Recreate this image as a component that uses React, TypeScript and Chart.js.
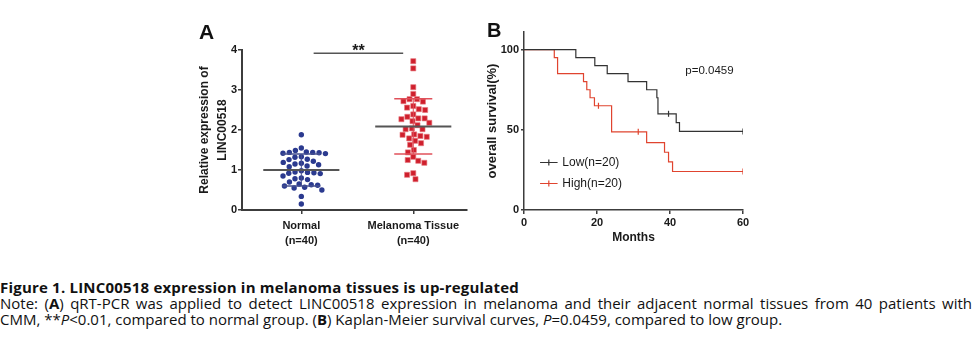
import React, { useEffect, useRef } from "react";
import { Chart, registerables } from "chart.js";
Chart.register(...registerables);

// ---------- Panel A data ----------
const groupLabels = [["Normal", "(n=40)"], ["Melanoma Tissue", "(n=40)"]];
const normalValues = [
  1.88, 1.55, 1.49, 1.45, 1.44, 1.44, 1.43, 1.42, 1.41, 1.33,
  1.32, 1.27, 1.26, 1.22, 1.19, 1.17, 1.15, 1.13, 1.10, 1.08,
  0.98, 0.95, 0.94, 0.93, 0.92, 0.91, 0.85, 0.80, 0.78, 0.76,
  0.70, 0.65, 0.63, 0.62, 0.60, 0.57, 0.55, 0.50, 0.34, 0.15,
];
const melanomaValues = [
  3.72, 3.54, 3.07, 2.90, 2.77, 2.77, 2.72, 2.71, 2.60, 2.56,
  2.52, 2.50, 2.39, 2.33, 2.29, 2.29, 2.27, 2.22, 2.18, 2.12,
  2.04, 2.02, 2.02, 1.89, 1.88, 1.85, 1.83, 1.79, 1.73, 1.67,
  1.63, 1.50, 1.44, 1.33, 1.25, 1.23, 1.18, 0.92, 0.88, 0.77,
];
const groupMeans = [1.0, 2.09];
const groupSDs = [0.4, 0.69];
const yTicksA = [0, 1, 2, 3, 4];
const sigLevel = 3.92;
const sigFrom = 0.11;
const sigTo = 0.91;
const sigLabel = "**";
const yTitleA = ["Relative expression of", "LINC00518"];

// ---------- Panel B data ----------
const lowTimes = [0, 14.2, 19.4, 22.8, 28.5, 33.6, 36.4, 36.7, 41.7, 42.6, 60];
const lowSurvival = [100, 95, 90, 85, 80, 75, 70, 60, 54.5, 49, 49];
const lowCensorTimes = [39.6, 60];
const lowCensorSurvival = [60, 49];
const highTimes = [0, 8.3, 9.2, 16.3, 17.2, 18.1, 19.3, 24, 33.6, 38.5, 39.6, 40.7, 60];
const highSurvival = [100, 95, 85, 80, 75, 70, 65, 48.75, 42, 36, 30, 24, 24];
const highCensorTimes = [20.4, 31.3, 60];
const highCensorSurvival = [65, 48.75, 24];
const xTicksB = [0, 20, 40, 60];
const yTicksB = [0, 50, 100];
const seriesNames = ["Low(n=20)", "High(n=20)"];
const pValueText = "p=0.0459";

const FONT = "'Liberation Sans', Arial, Helvetica, sans-serif";
const AXIS = "#3c3c3c";
const TEXT = "#1a1a1a";
const BLUE = "#2b3a8f";
const RED = "#cf1f2d";
const LOWC = "#333333";
const HIGHC = "#e0442f";

function swarmOffsets(values: number[], pxPerY: number, pxPerX: number, d: number): number[] {
  const order = values.map((_, i) => i).sort((a, b) => values[b] - values[a]);
  const placed: { x: number; y: number }[] = [];
  const out = new Array(values.length).fill(0);
  for (const i of order) {
    const y = values[i] * pxPerY;
    const cands = [0];
    for (const p of placed) {
      const dy = Math.abs(p.y - y);
      if (dy < d) {
        const dx = Math.sqrt(d * d - dy * dy);
        cands.push(p.x + dx, p.x - dx);
      }
    }
    cands.sort((a, b) => Math.abs(a) - Math.abs(b) || a - b);
    let chosen = 0;
    for (const c of cands) {
      if (placed.every((p) => (p.x - c) ** 2 + (p.y - y) ** 2 >= d * d - 0.01)) {
        chosen = c;
        break;
      }
    }
    placed.push({ x: chosen, y });
    out[i] = chosen / pxPerX;
  }
  return out;
}

function lineSet(points: { x: number; y: number }[], color: string, width: number) {
  return {
    data: points,
    showLine: true,
    borderColor: color,
    borderWidth: width,
    pointRadius: 0,
    pointHoverRadius: 0,
    fill: false,
  };
}

function buildConfigA(): any {
  const offN = swarmOffsets(normalValues, 40, 112, 6.4);
  const offM = swarmOffsets(melanomaValues, 40, 112, 6.4);
  const sdColors = ["#46508f", "#e0505a"];
  const statSets: any[] = [];
  groupMeans.forEach((m, g) => {
    const sd = groupSDs[g];
    statSets.push(lineSet([{ x: g - 0.34, y: m }, { x: g + 0.34, y: m }], "#555555", 2));
    statSets.push(lineSet([{ x: g - 0.17, y: m + sd }, { x: g + 0.17, y: m + sd }], sdColors[g], 1.5));
    statSets.push(lineSet([{ x: g - 0.17, y: m - sd }, { x: g + 0.17, y: m - sd }], sdColors[g], 1.5));
    statSets.push(lineSet([{ x: g, y: m - sd }, { x: g, y: m + sd }], sdColors[g], 1));
  });
  statSets.push(lineSet([{ x: sigFrom, y: sigLevel }, { x: sigTo, y: sigLevel }], "#555555", 1.5));

  const sigPlugin = {
    id: "sigText",
    afterDatasetsDraw(chart: any) {
      const { ctx, scales } = chart;
      const x = scales.x.getPixelForValue((sigFrom + sigTo) / 2);
      const y = scales.y.getPixelForValue(sigLevel);
      ctx.save();
      ctx.font = `bold 16px ${FONT}`;
      ctx.fillStyle = TEXT;
      ctx.textAlign = "center";
      ctx.textBaseline = "alphabetic";
      ctx.fillText(sigLabel, x, y + 3);
      ctx.restore();
    },
  };

  return {
    type: "scatter",
    data: {
      datasets: [
        ...statSets,
        {
          data: normalValues.map((v, i) => ({ x: 0 + offN[i], y: v })),
          pointStyle: "circle",
          pointRadius: 2.7,
          pointHoverRadius: 2.7,
          backgroundColor: BLUE,
          borderColor: BLUE,
          borderWidth: 0,
        },
        {
          data: melanomaValues.map((v, i) => ({ x: 1 + offM[i], y: v })),
          pointStyle: "rect",
          pointRadius: 3.6,
          pointHoverRadius: 3.6,
          backgroundColor: RED,
          borderColor: "#e77a80",
          borderWidth: 0.6,
        },
      ],
    },
    options: {
      responsive: false,
      animation: false,
      devicePixelRatio: 1,
      layout: { padding: { left: 0, top: 40, right: 13, bottom: 0 } },
      plugins: { legend: { display: false }, tooltip: { enabled: false } },
      scales: {
        x: {
          type: "linear",
          min: -0.53,
          max: 1.48,
          afterBuildTicks: (s: any) => {
            s.ticks = groupLabels.map((_, i) => ({ value: i }));
          },
          ticks: {
            callback: (_v: any, i: number) => groupLabels[i],
            font: { family: FONT, size: 11, weight: "bold", lineHeight: 1.4 },
            color: TEXT,
            padding: 4,
            maxRotation: 0,
            autoSkip: false,
          },
          grid: { drawOnChartArea: false, drawTicks: true, tickLength: 4, color: AXIS, lineWidth: 1.5 },
          border: { display: true, color: AXIS, width: 2 },
          afterFit: (s: any) => {
            s.height = 50;
          },
        },
        y: {
          type: "linear",
          min: 0,
          max: 4,
          afterBuildTicks: (s: any) => {
            s.ticks = yTicksA.map((v) => ({ value: v }));
          },
          ticks: {
            font: { family: FONT, size: 11, weight: "bold" },
            color: TEXT,
            padding: 1,
          },
          grid: { drawOnChartArea: false, drawTicks: true, tickLength: 4, color: AXIS, lineWidth: 1.5 },
          border: { display: true, color: AXIS, width: 2 },
          title: {
            display: true,
            text: yTitleA,
            color: TEXT,
            font: { family: FONT, size: 12, weight: "bold", lineHeight: 1.5 },
            padding: { top: 16, bottom: 0 },
          },
          afterFit: (s: any) => {
            s.width = 62;
          },
        },
      },
    },
    plugins: [sigPlugin],
  };
}

function buildConfigB(): any {
  const lowPts = lowTimes.map((t, i) => ({ x: t, y: lowSurvival[i] }));
  const highPts = highTimes.map((t, i) => ({ x: t, y: highSurvival[i] }));
  const censor = (ts: number[], ss: number[], color: string) => ({
    data: ts.map((t, i) => ({ x: t, y: ss[i] })),
    pointStyle: "line",
    rotation: 90,
    pointRadius: 3,
    pointHoverRadius: 3,
    borderColor: color,
    borderWidth: 1.2,
    backgroundColor: color,
  });
  const colors = [LOWC, HIGHC];

  const annot = {
    id: "kmAnnot",
    afterDatasetsDraw(chart: any) {
      const { ctx, scales } = chart;
      const xs = scales.x;
      const ys = scales.y;
      ctx.save();
      ctx.font = `11.5px ${FONT}`;
      ctx.fillStyle = TEXT;
      ctx.textBaseline = "middle";
      ctx.textAlign = "left";
      ctx.fillText(pValueText, xs.getPixelForValue(44.2), ys.getPixelForValue(86.5));
      ctx.font = `12px ${FONT}`;
      const legendY = [30.2, 17.1];
      seriesNames.forEach((name, i) => {
        const y = Math.round(ys.getPixelForValue(legendY[i])) + 0.5;
        const x0 = xs.getPixelForValue(4.4);
        const x1 = xs.getPixelForValue(9.2);
        ctx.strokeStyle = colors[i];
        ctx.lineWidth = 1.2;
        ctx.beginPath();
        ctx.moveTo(x0, y);
        ctx.lineTo(x1, y);
        ctx.moveTo((x0 + x1) / 2, y - 3);
        ctx.lineTo((x0 + x1) / 2, y + 3);
        ctx.stroke();
        ctx.fillStyle = TEXT;
        ctx.fillText(name, xs.getPixelForValue(10.5), y);
      });
      ctx.restore();
    },
  };

  return {
    type: "scatter",
    data: {
      datasets: [
        censor(lowCensorTimes, lowCensorSurvival, LOWC),
        censor(highCensorTimes, highCensorSurvival, HIGHC),
        { ...lineSet(lowPts, LOWC, 1.2), stepped: "before" },
        { ...lineSet(highPts, HIGHC, 1.2), stepped: "before" },
      ],
    },
    options: {
      responsive: false,
      animation: false,
      devicePixelRatio: 1,
      layout: { padding: { left: 0, top: 17, right: 17, bottom: 0 } },
      plugins: { legend: { display: false }, tooltip: { enabled: false } },
      scales: {
        x: {
          type: "linear",
          min: 0,
          max: 60,
          afterBuildTicks: (s: any) => {
            s.ticks = xTicksB.map((v) => ({ value: v }));
          },
          ticks: { font: { family: FONT, size: 11, weight: "bold" }, color: TEXT, padding: 2, maxRotation: 0 },
          grid: { drawOnChartArea: false, drawTicks: true, tickLength: 4, color: AXIS, lineWidth: 1.5 },
          border: { display: true, color: AXIS, width: 1.5 },
          title: {
            display: true,
            text: "Months",
            color: TEXT,
            font: { family: FONT, size: 12, weight: "bold", lineHeight: 1.2 },
            padding: { top: 0, bottom: 19.8 },
          },
          afterFit: (s: any) => {
            s.height = 55;
          },
        },
        y: {
          type: "linear",
          min: 0,
          max: 111,
          afterBuildTicks: (s: any) => {
            s.ticks = yTicksB.map((v) => ({ value: v }));
          },
          ticks: { font: { family: FONT, size: 11, weight: "bold" }, color: TEXT, padding: 2 },
          grid: { drawOnChartArea: false, drawTicks: true, tickLength: 3, color: AXIS, lineWidth: 1.5 },
          border: { display: true, color: AXIS, width: 1.5 },
          title: {
            display: true,
            text: "overall survival(%)",
            color: TEXT,
            font: { family: FONT, size: 13, weight: "bold", lineHeight: 1.2 },
            padding: { top: 15, bottom: 0 },
          },
          afterFit: (s: any) => {
            s.width = 54;
          },
        },
      },
    },
    plugins: [annot],
  };
}

export default function App() {
  const refA = useRef<HTMLCanvasElement>(null);
  const refB = useRef<HTMLCanvasElement>(null);
  useEffect(() => {
    const a = new Chart(refA.current as HTMLCanvasElement, buildConfigA());
    const b = new Chart(refB.current as HTMLCanvasElement, buildConfigB());
    return () => {
      a.destroy();
      b.destroy();
    };
  }, []);
  const cap = "'Open Sans', 'Noto Sans', sans-serif";
  return (
    <div style={{ position: "absolute", left: 0, top: 0, width: 974, height: 351, background: "#fff", overflow: "hidden" }}>
      <canvas ref={refA} width={300} height={250} style={{ position: "absolute", left: 180, top: 10, width: 300, height: 250 }} />
      <canvas ref={refB} width={290} height={250} style={{ position: "absolute", left: 470, top: 15, width: 290, height: 250 }} />
      <div style={{ position: "absolute", left: 199, top: 20.5, font: `bold 21px ${FONT}`, lineHeight: "21px", color: "#111" }}>A</div>
      <div style={{ position: "absolute", left: 487, top: 20.4, font: `bold 20px ${FONT}`, lineHeight: "20px", color: "#111" }}>B</div>
      <div style={{ position: "absolute", left: 0, top: 278.7, font: `bold 15px ${cap}`, letterSpacing: "0.2px", lineHeight: "16px", whiteSpace: "nowrap", color: "#111" }}>
        Figure 1. LINC00518 expression in melanoma tissues is up-regulated
      </div>
      <div style={{ position: "absolute", left: 0, top: 296.2, width: 972, font: `15px ${cap}`, lineHeight: "15.7px", color: "#111" }}>
        <div style={{ textAlign: "justify", textAlignLast: "justify", whiteSpace: "nowrap" }}>
          Note: (<b>A</b>) qRT-PCR was applied to detect LINC00518 expression in melanoma and their adjacent normal tissues from 40 patients with
        </div>
        <div style={{ whiteSpace: "nowrap" }}>
          CMM, **<i>P</i>&lt;0.01, compared to normal group. (<b>B</b>) Kaplan-Meier survival curves, <i>P</i>=0.0459, compared to low group.
        </div>
      </div>
    </div>
  );
}
